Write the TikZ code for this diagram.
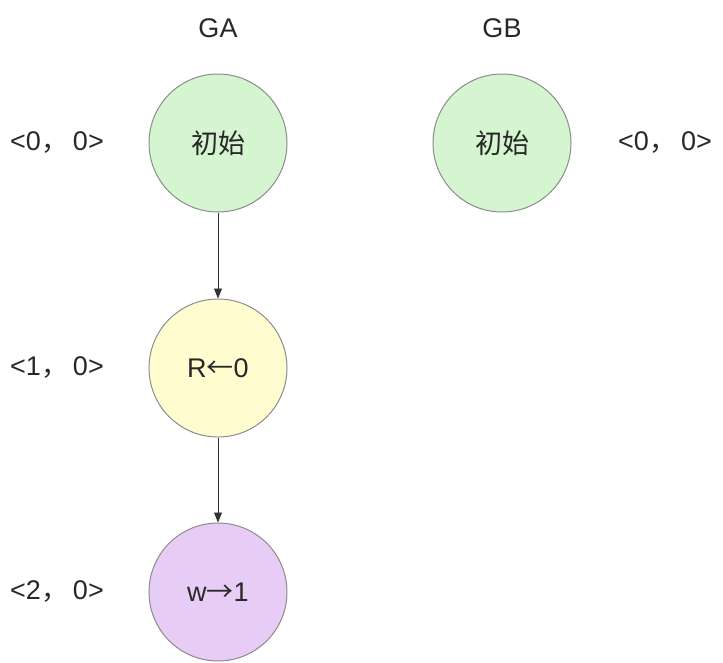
\documentclass[tikz,border=0pt]{standalone}
\usepackage{fontspec}
\setmainfont{Liberation Sans}
\newfontfamily\cjk{Noto Sans CJK SC}
\usetikzlibrary{arrows.meta}
\definecolor{gfill}{RGB}{213,245,209}
\definecolor{yfill}{RGB}{255,253,208}
\definecolor{pfill}{RGB}{231,204,245}
\definecolor{edge}{RGB}{140,140,140}
\definecolor{txt}{RGB}{40,40,40}
\tikzset{
  state/.style={circle, draw=edge, line width=1pt, minimum size=138pt, inner sep=0pt, text=txt, font=\fontsize{27}{30}\selectfont},
  lbl/.style={text=txt, font=\fontsize{27}{30}\selectfont, inner sep=0pt},
  conn/.style={-{Triangle[length=10pt,width=8pt]}, line width=0.8pt, draw=black!80}
}
\begin{document}
\begin{tikzpicture}[x=1pt,y=-1pt]
\useasboundingbox (0,0) rectangle (723,662);
\node[lbl] (ga) at (218,28) {GA};
\node[lbl] (gb) at (502,28) {GB};
\node[state, fill=gfill] (a0) at (218,143) {\cjk 初始};
\node[state, fill=yfill] (a1) at (218,368) {R{\cjk ←}0};
\node[state, fill=pfill] (a2) at (218,592) {w{\cjk →}1};
\node[state, fill=gfill] (b0) at (502,143) {\cjk 初始};
\node[lbl] (l0) at (57,143) {<0{\cjk ，}\hspace{5pt}0>};
\node[lbl] (l1) at (57,368) {<1{\cjk ，}\hspace{5pt}0>};
\node[lbl] (l2) at (57,592) {<2{\cjk ，}\hspace{5pt}0>};
\node[lbl] (r0) at (665,143) {<0{\cjk ，}\hspace{5pt}0>};
\draw[conn] (a0) -- (a1);
\draw[conn] (a1) -- (a2);
\end{tikzpicture}
\end{document}
